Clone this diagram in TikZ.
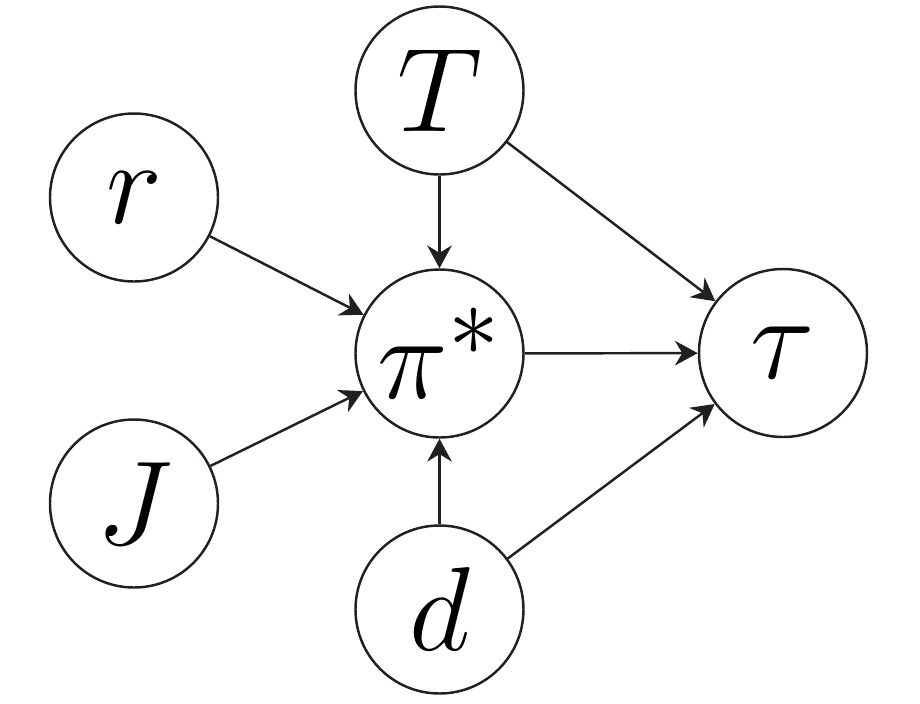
\documentclass[tikz,border=0pt]{standalone}
\usepackage{fix-cm}
\DeclareMathSizes{34}{34}{29}{20}
\usetikzlibrary{arrows.meta}
\definecolor{ink}{HTML}{231F20}
\begin{document}
\begin{tikzpicture}[
  var/.style={draw=ink,circle,line width=0.7pt,minimum size=1.68cm,inner sep=0pt,
    font=\fontsize{34}{40}\selectfont},
  edge/.style={draw=ink,line width=0.7pt,-{Stealth[length=6.5pt,width=7pt]}}]
\useasboundingbox (0,0) rectangle (9.2,7.03);

\node[var] (T) at (4.395,6.125) {$T$};
\node[var] (r) at (1.34,5.055) {$r$};
\node[var] (pi) at (4.395,3.495) {$\pi^*$};
\node[var] (tau) at (7.83,3.5) {$\tau$};
\node[var] (J) at (1.34,1.995) {$J$};
\node[var] (d) at (4.395,0.935) {$d$};

\draw[edge] (T) -- (pi);
\draw[edge] (T) -- (tau);
\draw[edge] (r) -- (pi);
\draw[edge] (J) -- (pi);
\draw[edge] (pi) -- (tau);
\draw[edge] (d) -- (pi);
\draw[edge] (d) -- (tau);
\end{tikzpicture}
\end{document}
